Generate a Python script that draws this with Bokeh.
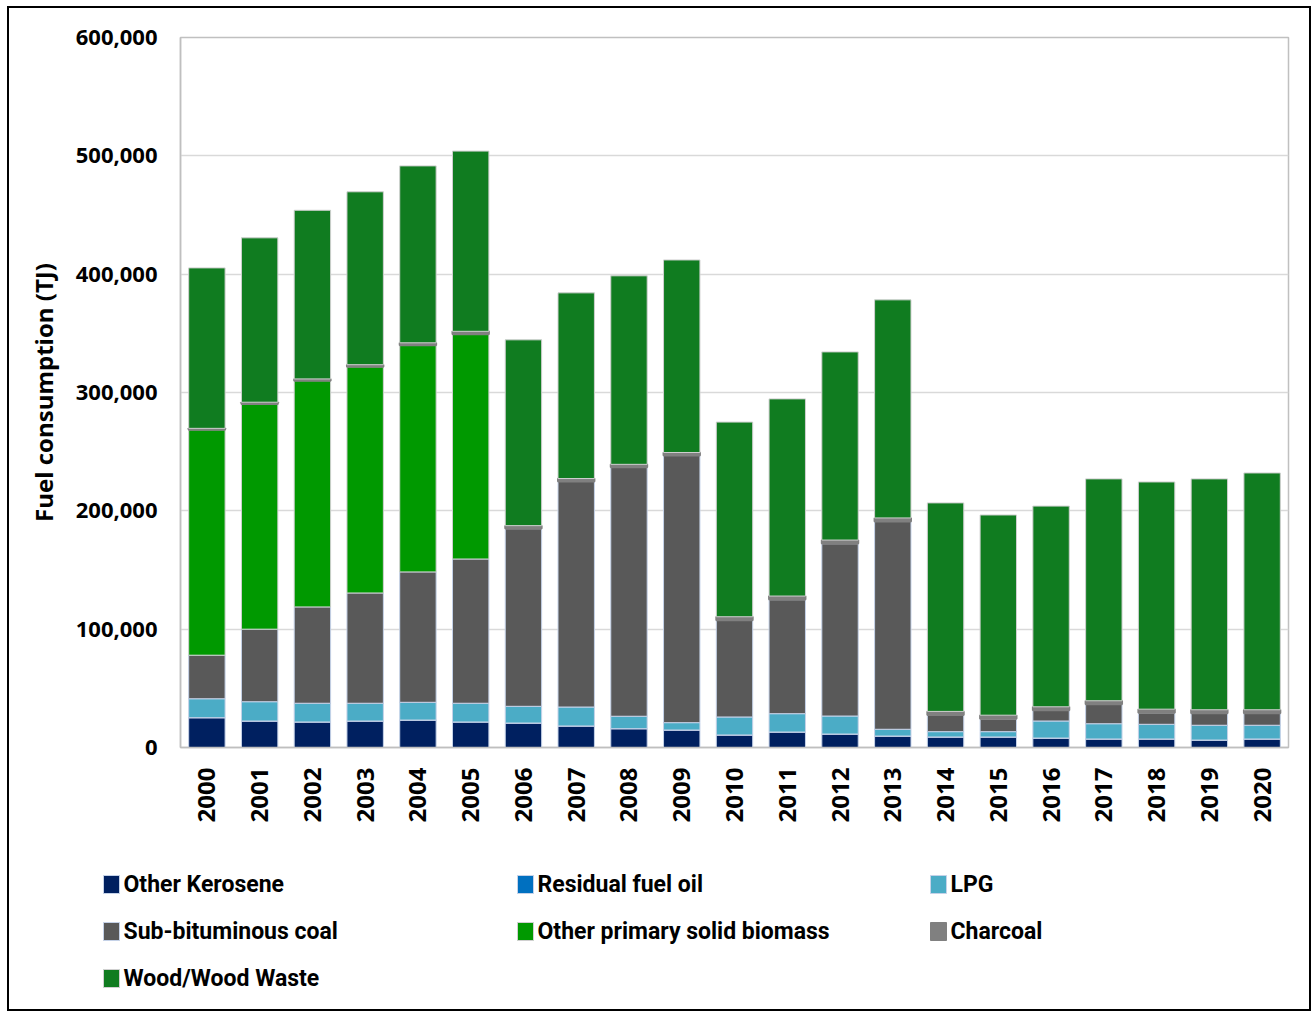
import math
from bokeh.plotting import figure
from bokeh.layouts import column
from bokeh.models import ColumnDataSource, NumeralTickFormatter, FixedTicker, Range1d
from bokeh.core.properties import value
from bokeh.embed import file_html
from bokeh.resources import INLINE

years = [str(y) for y in range(2000, 2021)]
kerosene = [25200, 22400, 21600, 22400, 23200, 21600, 20700, 18200, 15900, 14800, 10600,
            13100, 11400, 9700, 8900, 8900, 8000, 7200, 7200, 6300, 7200]
residual = [0, 0, 0, 0, 0, 0, 0, 0, 0, 0, 0, 0, 0, 0, 0, 0, 0, 0, 0, 0, 0]
lpg = [16000, 16300, 15800, 15000, 15000, 15800, 14100, 16000, 10500, 6200, 15200,
       15500, 15200, 5700, 4500, 4500, 14400, 12900, 12400, 12500, 11600]
coal = [36800, 61300, 81400, 93200, 110200, 121900, 150200, 190600, 210400, 225800, 81700,
        96400, 145700, 175600, 14100, 10900, 9000, 16400, 9800, 10100, 10100]
biomass = [190500, 190300, 191200, 191100, 191600, 189900, 0, 0, 0, 0, 0,
           0, 0, 0, 0, 0, 0, 0, 0, 0, 0]
charcoal = [1200, 1500, 1500, 1800, 2000, 2500, 2500, 2500, 2500, 2500, 3000,
            3000, 3000, 3000, 3000, 3000, 3000, 3000, 3000, 3000, 3000]
wood = [135600, 138900, 142500, 146100, 149500, 152300, 157000, 156900, 159300, 162700, 164500,
        166600, 159000, 184300, 176200, 169200, 169600, 187500, 192000, 195100, 200100]

series = ["Other Kerosene", "Residual fuel oil", "LPG", "Sub-bituminous coal",
          "Other primary solid biomass", "Charcoal", "Wood/Wood Waste"]
keys = ["kerosene", "residual", "lpg", "coal", "biomass", "charcoal", "wood"]
colors = ["#002060", "#0070C0", "#4BACC6", "#595959", "#009900", "#808080", "#107C20"]
outlines = ["#C5D2E8", "#C5D2E8", "#C5D2E8", "#C5D2E8", "#D0D0D0", "#808080", "#D0D0D0"]
y_ticks = [0, 100000, 200000, 300000, 400000, 500000, 600000]

source = ColumnDataSource(dict(years=years, kerosene=kerosene, residual=residual, lpg=lpg,
                               coal=coal, biomass=biomass, charcoal=charcoal, wood=wood))

W, H1, H2 = 1300, 840, 161
p = figure(x_range=years, y_range=Range1d(0, 600000), width=W, height=H1,
           output_backend="svg", toolbar_location=None,
           min_border_left=171, min_border_right=21,
           min_border_top=29, min_border_bottom=H1 - 739)
p.frame_align = False

p.vbar_stack(keys, x="years", width=0.69, source=source,
             color=colors, line_color=outlines, line_width=[1, 1, 1, 1, 1, 2, 1])

p.xgrid.grid_line_color = None
p.ygrid.grid_line_color = "#D9D9D9"
p.ygrid.grid_line_width = 1.5
p.outline_line_color = "#C0C0C0"
p.outline_line_width = 1.5

font = "Open Sans"
p.yaxis.ticker = FixedTicker(ticks=y_ticks)
p.yaxis.formatter = NumeralTickFormatter(format="0,0")
p.yaxis.axis_label = "Fuel consumption (TJ)"
for ax in (p.xaxis[0], p.yaxis[0]):
    ax.axis_line_color = "#BFBFBF"
    ax.axis_line_width = 1.5
    ax.major_tick_line_color = None
    ax.minor_tick_line_color = None
    ax.major_label_text_font = font
    ax.major_label_text_font_style = "bold"
    ax.major_label_text_color = "black"
p.yaxis.major_label_text_font_size = "22px"
p.xaxis.major_label_text_font_size = "24px"
p.yaxis.major_label_standoff = 17
p.yaxis.axis_label_text_font = font
p.yaxis.axis_label_text_font_style = "bold"
p.yaxis.axis_label_text_font_size = "24px"
p.yaxis.axis_label_text_color = "black"
p.yaxis.axis_label_standoff = 13
p.xaxis.major_label_orientation = math.pi / 2
p.xaxis.major_label_standoff = 14

# legend drawn in its own strip under the chart (3 columns, row-major)
col_left = [94, 508, 921]
row_mid = [36, 83, 130]
sw_x, sw_y, tx, ty = [], [], [], []
for i in range(len(series)):
    c, r = i % 3, i // 3
    sw_x.append(col_left[c] + 8)
    sw_y.append(row_mid[r])
    tx.append(col_left[c] + 20)
    ty.append(row_mid[r])
leg_src = ColumnDataSource(dict(sx=sw_x, sy=sw_y, tx=tx, ty=ty, name=series,
                                fill=colors, line=outlines))
p2 = figure(width=W, height=H2, x_range=Range1d(0, W), y_range=Range1d(H2, 0),
            output_backend="svg", toolbar_location=None, x_axis_type=None, y_axis_type=None,
            min_border=0, min_border_left=0, min_border_right=0, min_border_top=0,
            min_border_bottom=0)
p2.frame_align = False
p2.xgrid.grid_line_color = None
p2.ygrid.grid_line_color = None
p2.outline_line_color = None
p2.rect(x="sx", y="sy", width=16, height=18, fill_color="fill", line_color="line",
        line_width=1, source=leg_src)
p2.text(x="tx", y="ty", text="name", source=leg_src, text_baseline="middle",
        text_font=value("Roboto"), text_font_style="bold",
        text_font_size="23px", text_color="black")

layout = column(p, p2, spacing=0,
                styles={"border": "2px solid black", "margin-left": "7px", "margin-top": "6px"})

open("out.html", "w").write(file_html(layout, INLINE))
